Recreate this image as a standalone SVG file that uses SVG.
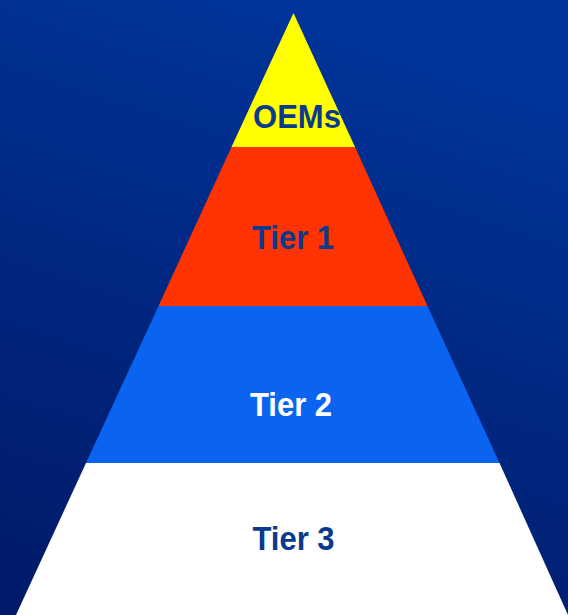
<svg xmlns="http://www.w3.org/2000/svg" width="568" height="615" viewBox="0 0 568 615">
  <defs>
    <linearGradient id="bg" x1="0.65" y1="0" x2="0.35" y2="1">
      <stop offset="0" stop-color="#00359c"/>
      <stop offset="1" stop-color="#001b6a"/>
    </linearGradient>
  </defs>
  <style>
    .lbl { font-family: "Liberation Sans", Arial, sans-serif; font-weight: bold; font-size: 31px; text-anchor: middle; }
    .dark { fill: #0b3a8c; }
    .light { fill: #ffffff; }
  </style>
  <rect x="0" y="0" width="568" height="615" fill="url(#bg)"/>

  <!-- top tier -->
  <g id="oems">
    <polygon points="293.5,13 355,147 231.5,147" fill="#ffff00"/>
    <text class="lbl dark" x="297" y="128" transform="translate(0,-7.68) scale(1,1.06)">OEMs</text>
  </g>

  <!-- second tier -->
  <g id="tier1">
    <polygon points="231.5,147 355,147 427.5,306 158.5,306" fill="#ff3300"/>
    <text class="lbl dark" x="293" y="249" transform="translate(0,-14.94) scale(1,1.06)">Tier 1</text>
  </g>

  <!-- third tier -->
  <g id="tier2">
    <polygon points="158.5,306 427.5,306 499.5,463 86,463" fill="#0a64f0"/>
    <text class="lbl light" x="291" y="416" transform="translate(0,-24.96) scale(1,1.06)">Tier 2</text>
  </g>

  <!-- base tier -->
  <g id="tier3">
    <polygon points="86,463 499.5,463 568,615 16,615" fill="#ffffff"/>
    <text class="lbl dark" x="293.5" y="550" transform="translate(0,-33) scale(1,1.06)">Tier 3</text>
  </g>
</svg>
